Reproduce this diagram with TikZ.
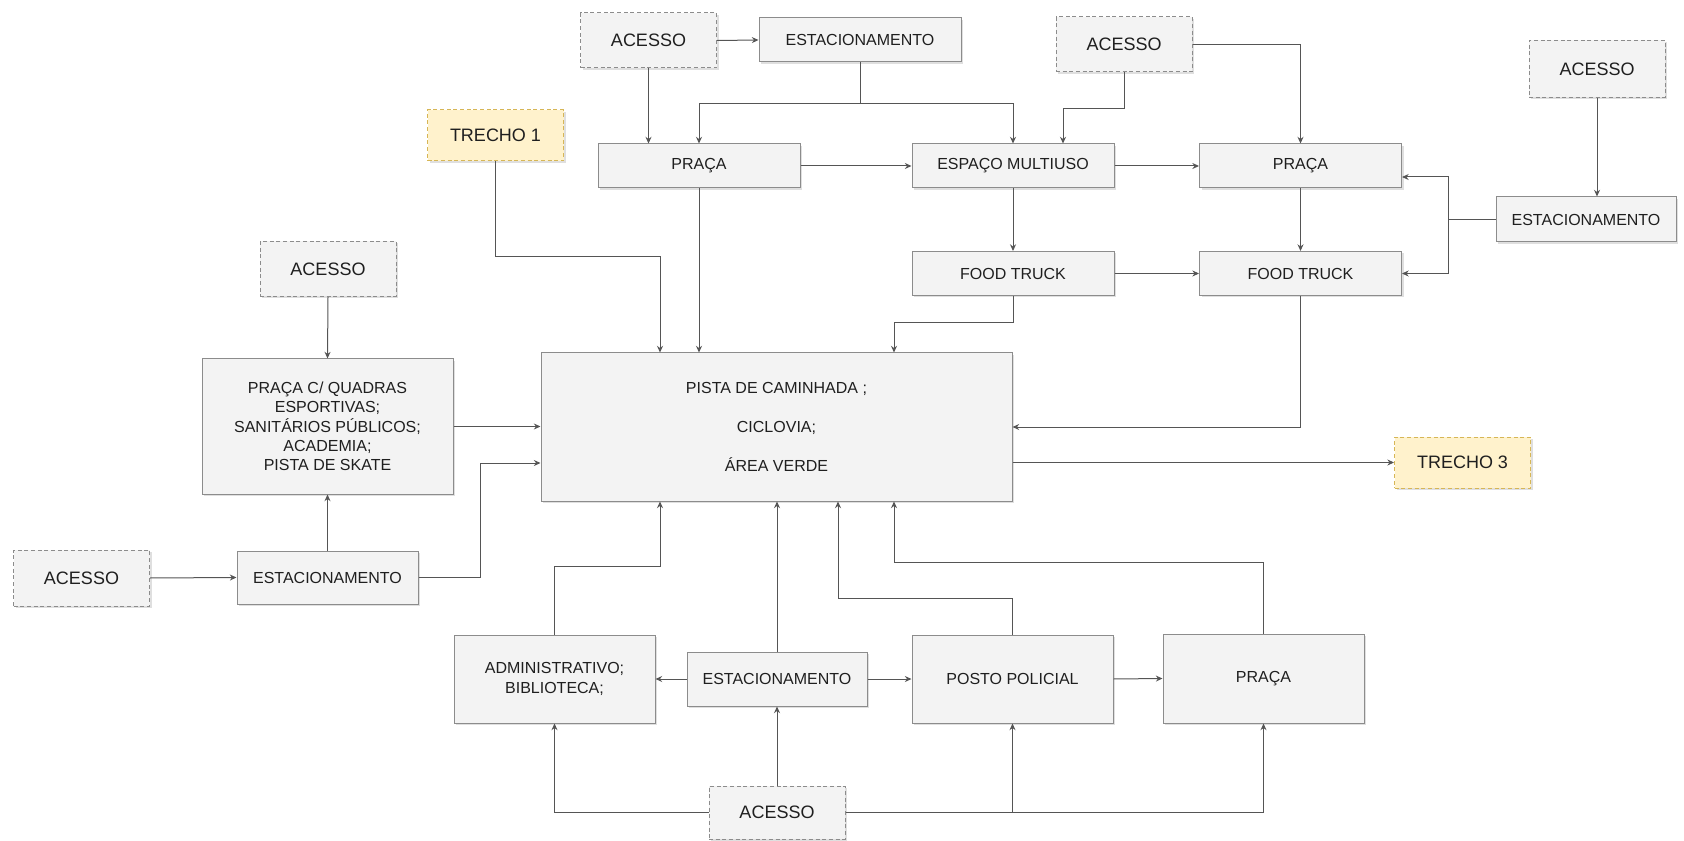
\documentclass[tikz,border=0pt]{standalone}
\usepackage{fontspec}
\setmainfont{Liberation Sans}
\usetikzlibrary{arrows.meta, calc, shadows}

\definecolor{boxfill}{HTML}{F3F3F3}
\definecolor{boxline}{HTML}{8C8C8C}
\definecolor{trechofill}{HTML}{FFF2CC}
\definecolor{trecholine}{HTML}{D6B656}
\definecolor{fiocor}{HTML}{555555}

\begin{document}
\begin{tikzpicture}[x=0.75pt, y=-0.75pt, >={Stealth[length=5pt,width=4.5pt]},
  bloco/.style={draw=boxline, fill=boxfill, line width=0.75pt, text=black!88,
    align=center, inner sep=2pt, minimum width=151.5pt, minimum height=33pt,
    font=\fontsize{12}{14.5}\selectfont,
    drop shadow={shadow xshift=1.5pt, shadow yshift=-1.5pt, opacity=0.25}},
  acesso/.style={bloco, dash pattern=on 3pt off 2pt, minimum width=102pt,
    minimum height=41.25pt, font=\fontsize{13.5}{16}\selectfont},
  trecho/.style={acesso, draw=trecholine, fill=trechofill, minimum height=38.25pt},
  fio/.style={->, draw=fiocor, line width=0.75pt}]
  \useasboundingbox (0,0) rectangle (1684,841);

  % parte de cima
  \node[acesso] (acesso1) at (648.5,40.5) {ACESSO};
  \node[bloco] (estac1) at (860,40) {ESTACIONAMENTO};
  \node[acesso] (acesso2) at (1124,44.5) {ACESSO};
  \node[acesso, minimum height=42.75pt] (acesso3) at (1597,69) {ACESSO};
  \node[trecho] (trecho1) at (495.5,135.5) {TRECHO 1};
  \node[bloco] (praca1) at (699,166) {PRAÇA};
  \node[bloco] (multiuso) at (1013,166) {ESPAÇO MULTIUSO};
  \node[bloco] (praca2) at (1300.5,166) {PRAÇA};
  \node[bloco, minimum width=135pt, minimum height=33.75pt] (estac2) at (1586,219.5) {ESTACIONAMENTO};
  \node[bloco] (food1) at (1013,273.5) {FOOD TRUCK};
  \node[bloco] (food2) at (1300.5,273.5) {FOOD TRUCK};

  % meio
  \node[acesso] (acesso4) at (328,269) {ACESSO};
  \node[bloco, minimum width=188.25pt, minimum height=101.25pt] (quadras) at (327.5,426.5)
    {PRAÇA C/ QUADRAS\\ ESPORTIVAS;\\ SANITÁRIOS PÚBLICOS;\\ ACADEMIA;\\ PISTA DE SKATE};
  \node[bloco, minimum width=353.25pt, minimum height=111pt] (pista) at (776.5,427)
    {PISTA DE CAMINHADA ;\\[14.5pt] CICLOVIA;\\[14.5pt] ÁREA VERDE};
  \node[trecho] (trecho3) at (1462.5,462.5) {TRECHO 3};
  \node[acesso, minimum height=42pt] (acesso5) at (81.5,578) {ACESSO};
  \node[bloco, minimum width=135.75pt, minimum height=39.75pt] (estac3) at (327.5,577.5) {ESTACIONAMENTO};

  % parte de baixo
  \node[bloco, minimum width=150.75pt, minimum height=66pt] (admin) at (554.5,679) {ADMINISTRATIVO;\\ BIBLIOTECA;};
  \node[bloco, minimum width=135pt, minimum height=40.5pt] (estac4) at (777,679) {ESTACIONAMENTO};
  \node[bloco, minimum width=150.75pt, minimum height=66pt] (posto) at (1012.5,679) {POSTO POLICIAL};
  \node[bloco, minimum width=150.75pt, minimum height=66.75pt] (praca3) at (1263.5,678.5) {PRAÇA};
  \node[acesso, minimum height=39.75pt] (acesso6) at (777,812.5) {ACESSO};

  % ligacoes de cima
  \draw[fio] (acesso1.east) -- (estac1.west);
  \draw[fio] (acesso1.south) -- (acesso1.south |- praca1.north);
  \draw[fio] (estac1.south) -- ++(0,41) -| (praca1.north);
  \draw[fio] (estac1.south) -- ++(0,41) -| (multiuso.north);
  \draw[fio] (acesso2.south) -- ++(0,36) -| ($(multiuso.north)+(50,0)$);
  \draw[fio] (acesso2.east) -| (praca2.north);
  \draw[fio] (acesso3.south) -- (acesso3.south |- estac2.north);
  \draw[fio] (estac2.west) -- ++(-47,0) |- ($(praca2.east)+(0,11)$);
  \draw[fio] (estac2.west) -- ++(-47,0) |- (food2.east);
  \draw[fio] (praca1.east) -- (multiuso.west);
  \draw[fio] (multiuso.east) -- (praca2.west);
  \draw[fio] (multiuso.south) -- (food1.north);
  \draw[fio] (praca2.south) -- (food2.north);
  \draw[fio] (food1.east) -- (food2.west);
  \draw[fio] (food1.south) -- ++(0,27) -| ($(pista.north)+(117.5,0)$);
  \draw[fio] (food2.south) |- (pista.east);
  \draw[fio] (trecho1.south) -- ++(0,95) -| ($(pista.north)+(-116.5,0)$);
  \draw[fio] (praca1.south) -- (praca1.south |- pista.north);

  % ligacoes do meio
  \draw[fio] (pista.east |- trecho3.west) -- (trecho3.west);
  \draw[fio] (acesso4.south) -- (quadras.north);
  \draw[fio] (quadras.east) -- (quadras.east -| pista.west);
  \draw[fio] (acesso5.east) -- (estac3.west);
  \draw[fio] (estac3.north) -- (quadras.south);
  \draw[fio] (estac3.east) -- ++(62,0) |- ($(pista.west)+(0,36)$);

  % ligacoes de baixo
  \draw[fio] (estac4.west) -- (admin.east);
  \draw[fio] (estac4.east) -- (posto.west);
  \draw[fio] (posto.east) -- (praca3.west);
  \draw[fio] (estac4.north) -- (estac4.north |- pista.south);
  \draw[fio] (admin.north) -- ++(0,-68) -| ($(pista.south)+(-116.5,0)$);
  \draw[fio] (posto.north) -- ++(0,-36) -| ($(pista.south)+(61.5,0)$);
  \draw[fio] (praca3.north) -- ++(0,-71) -| ($(pista.south)+(117.5,0)$);
  \draw[fio] (acesso6.north) -- (estac4.south);
  \draw[fio] (acesso6.west) -| (admin.south);
  \draw[fio] (acesso6.east) -| (posto.south);
  \draw[fio] (acesso6.east) -| (praca3.south);
\end{tikzpicture}
\end{document}
